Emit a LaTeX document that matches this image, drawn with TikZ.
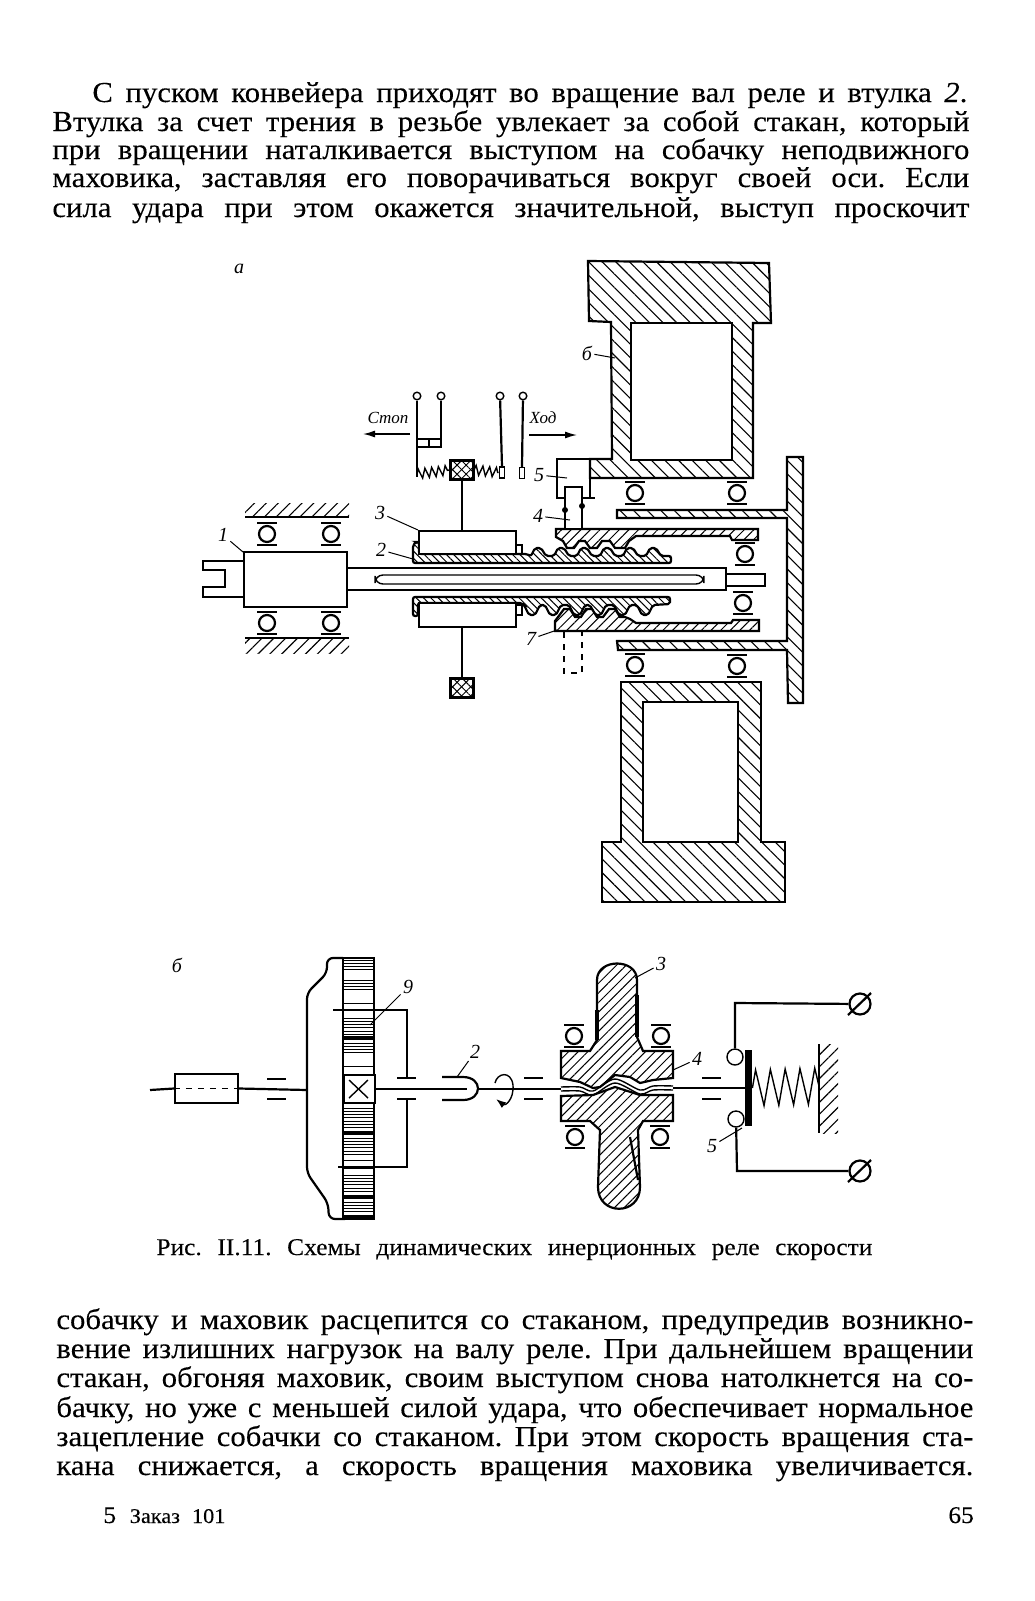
\documentclass[tikz,border=0pt]{standalone}
\usepackage{fontspec}
\setmainfont{Liberation Serif}[FakeStretch=1.06,FakeBold=0.15]
\newfontfamily\labelfont{Liberation Serif}
\usetikzlibrary{patterns.meta}
\usetikzlibrary{decorations.pathmorphing}
\usetikzlibrary{arrows.meta}

\tikzset{
  outline/.style={line width=1.1pt},
  thinline/.style={line width=.7pt},
  textline/.style={anchor=base west,inner sep=0pt,font=\fontsize{14.5}{17}\selectfont\frenchspacing},
  capline/.style={textline,font=\fontsize{12}{14}\selectfont\frenchspacing},
  numlabel/.style={inner sep=1pt,font=\fontsize{10}{12}\labelfont\itshape},
  sidelabel/.style={inner sep=1pt,font=\fontsize{8.5}{11}\labelfont\itshape},
  leader/.style={line width=.5pt},
  hatchwide/.style={outline,draw,preaction={fill=white},pattern={Lines[angle=-45,distance=4.8pt,line width=.55pt]}},
  hatchfine/.style={outline,draw,preaction={fill=white},pattern={Lines[angle=-45,distance=2.6pt,line width=.5pt]}},
  hatchnut/.style={outline,draw,preaction={fill=white},pattern={Lines[angle=45,distance=3.4pt,line width=.5pt]}},
  hatchwall/.style={pattern={Lines[angle=45,distance=4.2pt,line width=.55pt]}},
  ballring/.style={circle,draw,outline,fill=white,minimum size=8pt,inner sep=0pt},
  crossweight/.style={rectangle,outline,draw,minimum width=11.5pt,minimum height=9.5pt,inner sep=0pt,
    preaction={pattern={Lines[angle=45,distance=3.2pt,line width=.5pt]}},
    pattern={Lines[angle=-45,distance=3.2pt,line width=.5pt]}},
  blockbox/.style={rectangle,outline,draw,fill=white,inner sep=0pt},
  contactdot/.style={circle,thinline,draw,fill=white,minimum size=3.8pt,inner sep=0pt},
  contactball/.style={circle,thinline,draw,fill=white,minimum size=8pt,inner sep=0pt},
  terminal/.style={circle,outline,draw,minimum size=10.5pt,inner sep=0pt},
  stripe/.style={line width=.45pt},
}
\newcommand{\textrow}[5]{\node[textline] (#1) at (#2,#3) {\makebox[#4pt][s]{#5}};}

\begin{document}
\begin{tikzpicture}[x=.5pt,y=-.5pt]
  \useasboundingbox (0,0) rectangle (1034,1601);

  % text above the figure
  \textrow{top1}{92}{102}{437.5}{С пуском конвейера приходят во вращение вал реле и втулка {\itshape 2}.}
  \textrow{top2}{52}{131}{458.5}{Втулка за счет трения в резьбе увлекает за собой стакан, который}
  \textrow{top3}{52}{159}{458.5}{при вращении наталкивается выступом на собачку неподвижного}
  \textrow{top4}{52}{187}{458.5}{маховика, заставляя его поворачиваться вокруг своей оси. Если}
  \textrow{top5}{52}{217}{458.5}{сила удара при этом окажется значительной, выступ проскочит}
  \node[numlabel] (parta) at (239,269) {а};

  % flywheel
  \draw[hatchwide] (588,261) -- (769,263) -- (771,323) -- (753,323) -- (753,478) -- (590,478)
    -- (590,459) -- (612,459) -- (611,322) -- (589,321) -- cycle;
  \draw[outline,fill=white] (631,323) rectangle (732,460);
  \draw[hatchwide] (621,682) -- (761,682) -- (761,842) -- (785,842) -- (785,902) -- (602,902)
    -- (602,842) -- (621,842) -- cycle;
  \draw[outline,fill=white] (643,702) rectangle (738,842);
  \draw[hatchwide] (787,457) -- (803,457) -- (803,703) -- (788,703) -- (787,650) -- (618,650)
    -- (617,641) -- (787,641) -- (787,518) -- (617,518) -- (617,510) -- (787,510) -- cycle;

  % bearings
  \foreach \bx/\by in {267/534,331/534,267/623,331/623,635/493,737/493,745/554,743/603,635/665,737/666}{
    \node[ballring] (ball\bx\by) at (\bx,\by) {};
    \draw[outline] (\bx,\by) ++(-10,-11) -- ++(20,0);
    \draw[outline] (\bx,\by) ++(-10,11) -- ++(20,0);
  }

  % housing of the left bearings
  \fill[hatchwall] (245,503) rectangle (349,517);
  \draw[outline] (245,517) -- (349,517);
  \fill[hatchwall] (245,638) rectangle (349,653);
  \draw[outline] (245,638) -- (349,638);

  % shaft, fork and body
  \draw[outline,fill=white] (347,568) rectangle (726,590);
  \draw[thinline,rounded corners=4pt] (375,575) rectangle (704,584);
  \draw[outline,fill=white] (726,574) rectangle (765,586);
  \draw[outline] (244,561) -- (203,561) -- (203,570) -- (225,570) -- (225,587) -- (203,587) -- (203,597) -- (244,597);
  \node[blockbox,minimum width=51.5pt,minimum height=27.5pt] (bodyone) at (295.5,579.5) {};

  % threaded sleeve
  \draw[hatchfine,rounded corners=1pt] (413,563) -- (413,545) -- (416,542) -- (419,542) -- (419,554) -- (527,554)
    \foreach \tx in {538,561,584,607,630,653}{ -- ({\tx-7},556) -- ({\tx-3},548) -- ({\tx+3},548) -- ({\tx+8},556)}
    -- (671,556) -- (671,563) -- cycle;
  \draw[hatchfine,rounded corners=1pt] (413,597) -- (670,597) -- (670,604)
    \foreach \tx in {645,622,598,577,553,532}{ -- ({\tx+8},605) -- ({\tx+3},615) -- ({\tx-3},615) -- ({\tx-8},605)}
    -- (522,603) -- (418,603) -- (418,616) -- (413,616) -- cycle;

  % cup on the thread
  \draw[hatchnut] (556,529) -- (758,529) -- (758,540) -- (732,540) -- (730,536) -- (636,536) -- (629,541) -- (625,548)
    -- (615,548) -- (610,541) -- (602,541) -- (597,548) -- (590,548) -- (585,541) -- (579,541) -- (574,548)
    -- (567,548) -- (563,541) -- (556,537) -- cycle;
  \draw[hatchnut] (555,631) -- (759,631) -- (759,620) -- (733,620) -- (731,623) -- (636,623) -- (630,619) -- (625,617)
    -- (620,617) -- (615,609) -- (609,609) -- (603,617) -- (597,617) -- (592,609) -- (586,609) -- (581,617)
    -- (575,617) -- (570,609) -- (564,609) -- (555,621) -- cycle;
  \draw[thinline,dashed] (564,632) -- (564,673) -- (582,673) -- (582,632);

  % inertia blocks and their weights
  \node[blockbox,minimum width=48.5pt,minimum height=11.5pt] (upblock) at (467.5,542.5) {};
  \node[blockbox,minimum width=48.5pt,minimum height=12pt] (lowblock) at (467.5,615) {};
  \draw[outline] (516,545) -- (522,545) -- (522,554);
  \draw[outline] (516,605) -- (522,605) -- (522,615) -- (516,615);
  \node[crossweight] (topweight) at (462,470) {};
  \node[crossweight] (lowweight) at (462,688) {};
  \draw[outline] (topweight.south) -- (topweight.south |- upblock.north);
  \draw[outline] (lowblock.south -| lowweight) -- (lowweight.north);

  % contacts with spring
  \foreach \cname/\cx in {stopa/417,stopb/441,runa/500,runb/523}{
    \node[contactdot] (\cname) at (\cx,396) {};
  }
  \node[blockbox,thinline,minimum width=2.6pt,minimum height=5.5pt] (runbara) at (502,472.5) {};
  \node[blockbox,thinline,minimum width=2.6pt,minimum height=5.5pt] (runbarb) at (522,473) {};
  \draw[outline] (stopa) -- (417,477);
  \draw[outline] (stopb) -- (441,445);
  \draw[outline] (runa) -- (runbara.north);
  \draw[outline] (runb) -- (runbarb.north);
  \draw[outline] (417,439) rectangle (441,447);
  \draw[thinline] (429,439) -- (429,447);
  \draw[thinline,decorate,decoration={zigzag,segment length=3.4pt,amplitude=2.4pt}] (417,474) -- (topweight.west);
  \draw[thinline,decorate,decoration={zigzag,segment length=3.4pt,amplitude=2.4pt}] (topweight.east) -- (runbara.west);

  \node[sidelabel] (stoptext) at (388,418) {Стоп};
  \node[sidelabel] (runtext) at (543,418) {Ход};
  \coordinate (stopend) at (363,434);
  \coordinate (runend) at (577,435);
  \draw[thinline,-{Latex[length=6pt,width=3.5pt]}] (410,434) -- (stopend);
  \draw[thinline,-{Latex[length=6pt,width=3.5pt]}] (529,435) -- (runend);

  % pawl
  \draw[outline] (612,459) -- (557,459) -- (557,498) -- (565,498);
  \draw[outline] (590,459) -- (590,498) -- (582,498);
  \draw[outline] (590,498) -- (595,498);
  \draw[outline,fill=white] (565,528) -- (565,487) -- (582,487) -- (582,528);
  \fill (565,510) circle (3);
  \fill (582,506) circle (3);

  % numbered leaders of part a
  \foreach \nam/\txt/\lx/\ly/\tx/\ty in {one/1/223/535/243/552,two/2/381/550/413/559,three/3/380/513/418/530,
      four/4/538/516/570/520,five/5/539/475/567/478,six/б/587/353/615/358,seven/7/531/639/557/630}{
    \node[numlabel] (lab\nam) at (\lx,\ly) {\txt};
    \coordinate (tip\nam) at (\tx,\ty);
    \draw[leader] (lab\nam) -- (tip\nam);
  }

  % part b, left half
  \node[numlabel] (partb) at (177,965) {б};
  \node[blockbox,minimum width=31.5pt,minimum height=14.5pt] (inbox) at (206.5,1088.5) {};
  \draw[outline] (150,1090) -- (inbox.west);
  \draw[thinline,dashed] (inbox.west) -- (inbox.east);
  \coordinate (drumhub) at (307,1090);
  \draw[outline] (inbox.east) -- (drumhub);
  \foreach \mx/\my in {267/1079,267/1099,524/1078,524/1099,702/1078,702/1099}{
    \draw[outline] (\mx,\my) -- ++(19,0);
  }
  \draw[outline,rounded corners=3pt] (343,958) -- (327,958) -- (327,973) -- (307,993) -- (307,1173) -- (328,1203) -- (329,1219) -- (345,1219);
  \draw[outline] (343,958) rectangle (374,1219);
  \foreach \ya/\yb in {960/973,980/993,1018/1037,1043/1055,1108/1130,1138/1157,1175/1193,1202/1216}{
    \pgfmathsetmacro\ynext{\ya+3.3}
    \foreach \sy in {\ya,\ynext,...,\yb}{
      \draw[stripe] (343,\sy) -- (374,\sy);
    }
  }
  \foreach \sy in {1003,1066,1160,1168}{
    \draw[stripe] (343,\sy) -- (374,\sy);
  }
  \foreach \sy in {1038,1133,1197,1218}{
    \draw[line width=1.6pt] (343,\sy) -- (374,\sy);
  }
  \node[blockbox,minimum width=15.5pt,minimum height=14pt] (crossbox) at (359.5,1089) {};
  \draw[thinline] (349,1080) -- (368,1098);
  \draw[thinline] (368,1080) -- (349,1098);
  \draw[outline] (333,1010) -- (407,1010) -- (407,1078);
  \draw[outline] (397,1078) -- (416,1078);
  \draw[outline] (397,1099) -- (416,1099);
  \draw[outline] (407,1099) -- (407,1167) -- (338,1167);
  \draw[outline] (crossbox.east) -- (467,1089);
  \draw[outline] (442,1077) -- (463,1077) .. controls (483,1077) and (483,1100) .. (463,1100) -- (442,1100);
  \draw[thinline,-{Latex[length=5pt,width=3.5pt]}] (495,1083) .. controls (497,1073) and (511,1070) .. (513,1085)
    .. controls (514,1100) and (505,1106) .. (496,1099);

  % clutch
  \draw[hatchnut] (561,1051) -- (590,1051) -- (597,1040) -- (597,980) .. controls (597,958) and (637,958) .. (637,980)
    -- (637,1037) -- (643,1051) -- (673,1051) -- (673,1078) -- (653,1080) -- (640,1083) -- (630,1077) -- (615,1075)
    -- (600,1087) -- (593,1088) -- (580,1082) -- (561,1078) -- cycle;
  \draw[hatchnut] (561,1096) -- (561,1121) -- (590,1121) -- (600,1130) -- (598,1187) .. controls (598,1216) and (640,1216) .. (640,1187)
    -- (638,1130) -- (643,1121) -- (673,1121) -- (673,1095) -- (640,1095) -- (615,1087) -- (593,1095) -- cycle;
  \draw[line width=1.6pt] (597,1010) -- (597,1040);
  \draw[line width=1.6pt] (637,995) -- (637,1037);
  \draw[outline] (630,1137) -- (638,1180);
  \foreach \bx/\by in {574/1036,661/1036,575/1137,660/1137}{
    \node[ballring] (ball\bx\by) at (\bx,\by) {};
    \draw[outline] (\bx,\by) ++(-10,-11) -- ++(20,0);
    \draw[outline] (\bx,\by) ++(-10,11) -- ++(20,0);
  }
  \draw[outline] (478,1089) -- (561,1089);
  \draw[thinline] plot[smooth] coordinates {(561,1087) (580,1087) (593,1091) (615,1079) (640,1090) (653,1086) (673,1086)};
  \draw[thinline] plot[smooth] coordinates {(561,1091) (580,1091) (593,1095) (615,1083) (640,1094) (653,1090) (673,1090)};
  \draw[outline] (673,1088) -- (745,1088);

  % contact bar, spring and wires
  \node[rectangle,fill=black,minimum width=3.5pt,minimum height=38pt,inner sep=0pt] (contactbar) at (748.5,1088) {};
  \node[contactball] (ballup) at (735,1057) {};
  \node[contactball] (balldown) at (736,1119) {};
  \node[terminal] (termup) at (860,1004) {};
  \node[terminal] (termdown) at (860,1171) {};
  \draw[outline] (ballup) -- (735,1003) -- (termup);
  \draw[outline] (balldown) -- (737,1171) -- (termdown);
  \draw[outline] (848,1015) -- (871,993);
  \draw[outline] (848,1182) -- (871,1160);
  \fill[hatchwall] (819,1044) rectangle (838,1133);
  \draw[outline] (819,1044) -- (819,1133);
  \draw[thinline,decorate,decoration={zigzag,segment length=7.4pt,amplitude=9pt}] (contactbar.east) -- (819,1086);

  % numbered leaders of part b
  \foreach \nam/\txt/\lx/\ly/\tx/\ty in {btwo/2/475/1052/457/1077,bthree/3/661/964/635/978,bfour/4/697/1059/673/1070,
      bfive/5/712/1146/742/1128,bnine/9/408/987/370/1025}{
    \node[numlabel] (lab\nam) at (\lx,\ly) {\txt};
    \coordinate (tip\nam) at (\tx,\ty);
    \draw[leader] (lab\nam) -- (tip\nam);
  }

  % caption and text below the figure
  \node[capline] (caption) at (156,1255) {\makebox[358pt][s]{Рис. II.11. Схемы динамических инерционных реле скорости}};
  \textrow{low1}{56}{1329}{458.5}{собачку и маховик расцепится со стаканом, предупредив возникно-}
  \textrow{low2}{56}{1358}{458.5}{вение излишних нагрузок на валу реле. При дальнейшем вращении}
  \textrow{low3}{56}{1387}{458.5}{стакан, обгоняя маховик, своим выступом снова натолкнется на со-}
  \textrow{low4}{56}{1417}{458.5}{бачку, но уже с меньшей силой удара, что обеспечивает нормальное}
  \textrow{low5}{56}{1446}{458.5}{зацепление собачки со стаканом. При этом скорость вращения ста-}
  \textrow{low6}{56}{1475}{458.5}{кана снижается, а скорость вращения маховика увеличивается.}
  \node[capline] (footsign) at (103,1523) {\makebox[61pt][s]{5 {\fontsize{10.5}{12}\selectfont Заказ 101}}};
  \node[capline] (footpage) at (948,1523) {65};
\end{tikzpicture}
\end{document}
